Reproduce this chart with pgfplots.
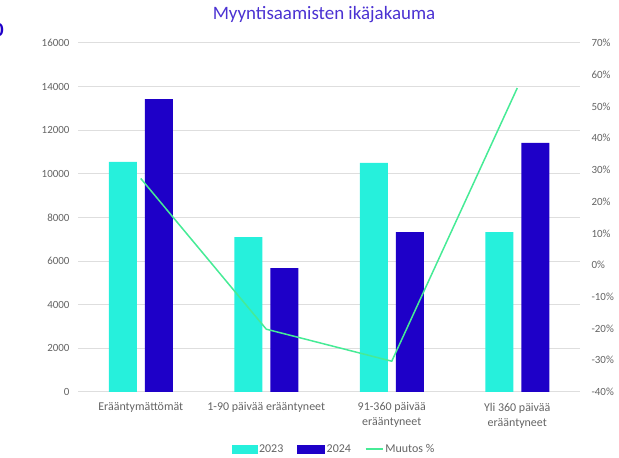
\documentclass[border=0pt]{standalone}
\usepackage{fontspec}
\setmainfont{Carlito}
\usepackage{pgfplots}
\pgfplotsset{compat=1.18}
\definecolor{c23}{RGB}{38,240,220}
\definecolor{c24}{RGB}{30,0,200}
\definecolor{cline}{RGB}{70,235,150}
\definecolor{ttl}{RGB}{75,50,210}
\definecolor{ticktxt}{RGB}{100,100,100}
\definecolor{gridc}{RGB}{222,222,222}
\begin{document}
\begin{tikzpicture}[x=1bp,y=1bp]
\path[use as bounding box] (0,0) rectangle (619,458);
\pgfplotsset{base/.style={
  at={(78bp,66bp)}, anchor=south west, scale only axis,
  width=502bp, height=349bp, xmin=-0.5, xmax=3.5,
  axis line style={draw=none}, tick style={draw=none},
  tick label style={font=\fontsize{11}{13}\selectfont, text=ticktxt},
  /pgf/number format/assume math mode=true,
}}
\begin{axis}[base,
  ybar=8bp, bar width=28bp,
  ymin=0, ymax=16000, ytick={0,2000,...,16000},
  ymajorgrids, grid style={gridc, line width=1bp},
  scaled y ticks=false, /pgf/number format/1000 sep={},
  y tick label style={xshift=-5bp},
  xtick={0,1,2,3},
  xticklabels={Erääntymättömät, 1-90 päivää erääntyneet, 91-360 päivää\\erääntyneet, Yli 360 päivää\\erääntyneet},
  x tick label style={align=center, font=\fontsize{12}{15}\selectfont, yshift=-3bp},
]
\addplot[fill=c23, draw=none] coordinates {(0,10550) (1,7100) (2,10500) (3,7330)};
\addplot[fill=c24, draw=none] coordinates {(0,13430) (1,5680) (2,7330) (3,11420)};
\end{axis}
\begin{axis}[base,
  axis y line*=right, xtick=\empty,
  ymin=-40, ymax=70, ytick={-40,-30,...,70},
  yticklabel={\pgfmathprintnumber{\tick}\%},
  y tick label style={xshift=8bp},
  legend columns=3,
  legend style={at={(0.51,-0.163)}, anchor=center, draw=none, fill=none,
    font=\fontsize{12}{14}\selectfont, text=ticktxt,
    /tikz/every even column/.append style={column sep=12bp}},
]
\addlegendimage{legend image code/.code={\fill[c23] (0bp,-4bp) rectangle (25bp,4bp);}}
\addlegendentry{2023}
\addlegendimage{legend image code/.code={\fill[c24] (0bp,-4bp) rectangle (27bp,4bp);}}
\addlegendentry{2024}
\addplot[cline, line width=1.5bp] coordinates {(0,27.3) (1,-20.2) (2,-30.3) (3,55.8)};
\addlegendentry{Muutos \%}
\end{axis}
\node[font=\fontsize{19}{22}\selectfont, text=ttl] at (324,443) {Myyntisaamisten ikäjakauma};
\node[font=\bfseries\fontsize{20}{22}\selectfont, text=c24, anchor=east, inner sep=0pt] at (4,428) {0};
\end{tikzpicture}
\end{document}
